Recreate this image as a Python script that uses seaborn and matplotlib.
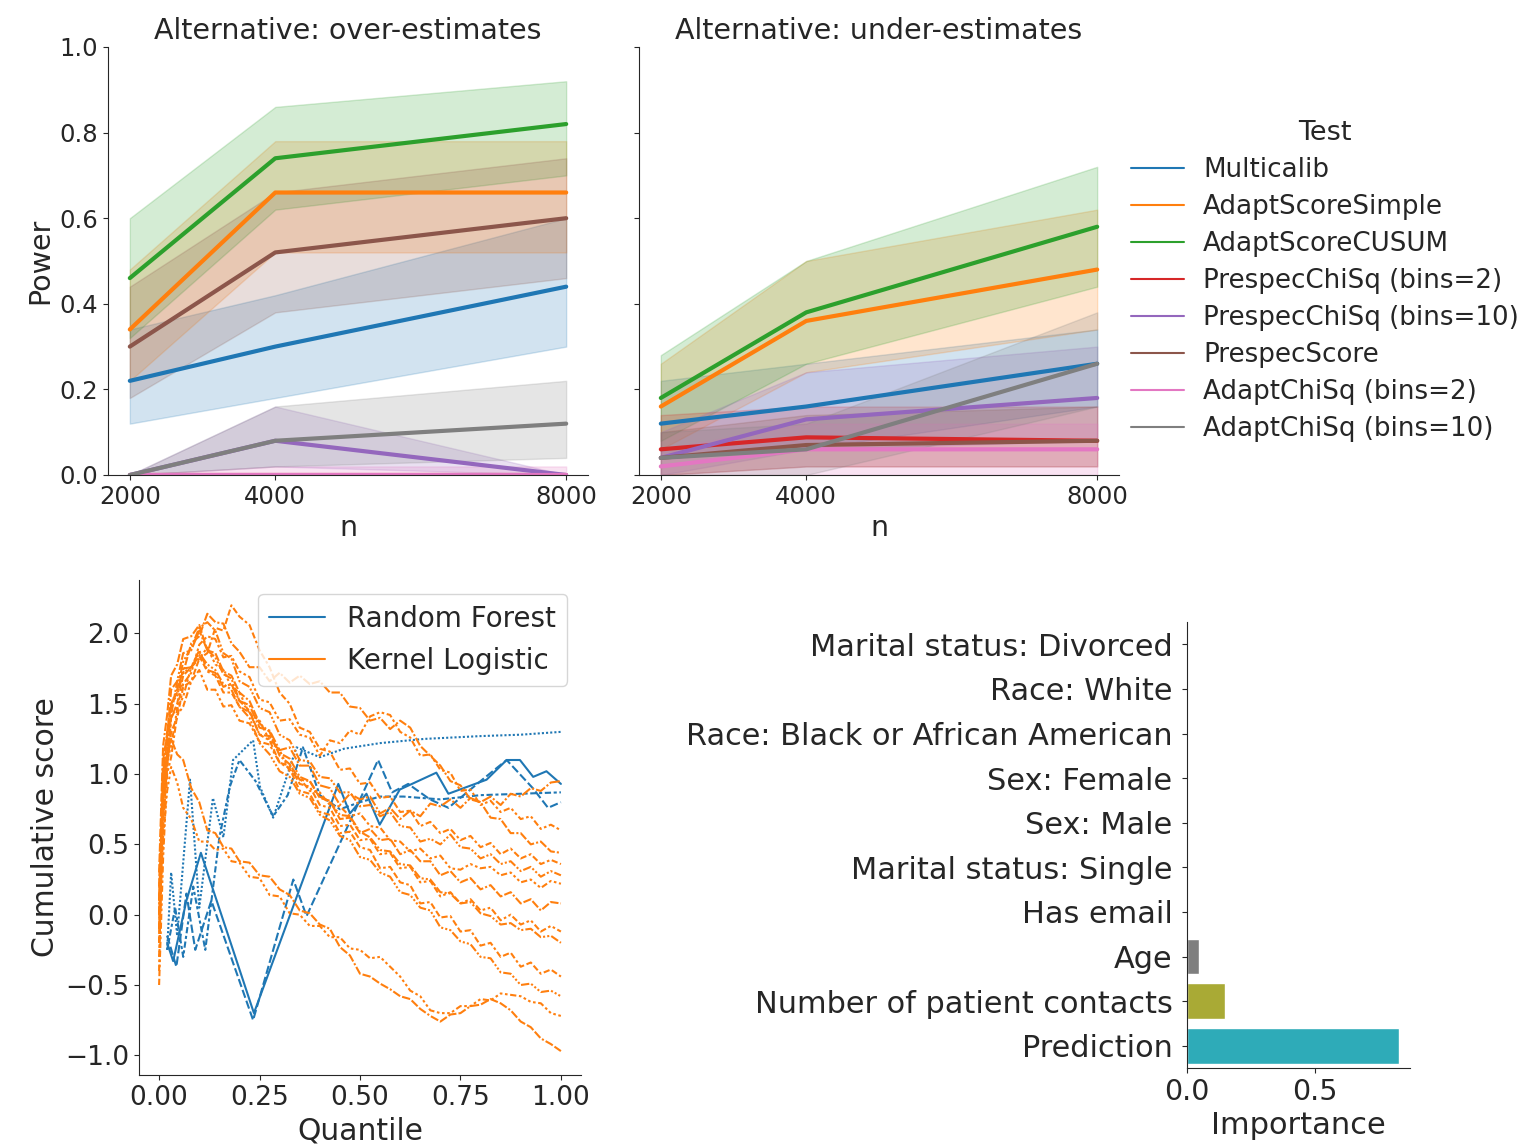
import numpy as np
import pandas as pd
import matplotlib
matplotlib.use("Agg")
import matplotlib.pyplot as plt
import seaborn as sns
from matplotlib.lines import Line2D

# ---------------------------------------------------------------- data
tests = ["Multicalib", "AdaptScoreSimple", "AdaptScoreCUSUM",
         "PrespecChiSq (bins=2)", "PrespecChiSq (bins=10)", "PrespecScore",
         "AdaptChiSq (bins=2)", "AdaptChiSq (bins=10)"]
n_values = [2000, 4000, 8000]

# power under the "over-estimates" alternative (one row per test)
over_power = [[0.22, 0.30, 0.44], [0.34, 0.66, 0.66], [0.46, 0.74, 0.82],
              [0.00, 0.00, 0.00], [0.00, 0.08, 0.00], [0.30, 0.52, 0.60],
              [0.00, 0.00, 0.00], [0.00, 0.08, 0.12]]
over_low = [[0.12, 0.18, 0.30], [0.22, 0.52, 0.52], [0.32, 0.62, 0.70],
            [0.00, 0.00, 0.00], [0.00, 0.02, 0.00], [0.18, 0.38, 0.46],
            [0.00, 0.00, 0.00], [0.00, 0.02, 0.04]]
over_high = [[0.34, 0.42, 0.60], [0.48, 0.78, 0.78], [0.60, 0.86, 0.92],
             [0.00, 0.00, 0.00], [0.00, 0.16, 0.00], [0.44, 0.66, 0.74],
             [0.00, 0.02, 0.02], [0.00, 0.16, 0.22]]

# power under the "under-estimates" alternative
under_power = [[0.12, 0.16, 0.26], [0.16, 0.36, 0.48], [0.18, 0.38, 0.58],
               [0.06, 0.088, 0.08], [0.04, 0.13, 0.18], [0.04, 0.07, 0.08],
               [0.02, 0.06, 0.06], [0.04, 0.06, 0.26]]
under_low = [[0.04, 0.06, 0.16], [0.06, 0.24, 0.34], [0.08, 0.26, 0.44],
             [0.00, 0.02, 0.02], [0.00, 0.06, 0.08], [0.00, 0.02, 0.02],
             [0.00, 0.00, 0.00], [0.00, 0.00, 0.16]]
under_high = [[0.22, 0.26, 0.34], [0.26, 0.50, 0.62], [0.28, 0.50, 0.72],
              [0.14, 0.16, 0.16], [0.10, 0.24, 0.30], [0.10, 0.14, 0.16],
              [0.06, 0.12, 0.12], [0.10, 0.12, 0.38]]

# cumulative score curves, Random Forest runs
rf_quantile = [
    [0.02, 0.035, 0.068, 0.104, 0.236, 0.446, 0.475, 0.516, 0.549, 0.599,
     0.69, 0.72, 0.815, 0.865, 0.898, 0.931, 0.964, 1.0],
    [0.02, 0.043, 0.068, 0.09, 0.13, 0.234, 0.334, 0.367, 0.545, 0.58,
     0.62, 0.674, 0.72, 0.80, 0.865, 0.93, 0.968, 1.0],
    [0.02, 0.03, 0.045, 0.077, 0.10, 0.134, 0.16, 0.184, 0.234, 0.251,
     0.284, 0.342, 0.40, 0.46, 0.55, 0.66, 0.80, 0.90, 1.0],
    [0.02, 0.04, 0.06, 0.085, 0.115, 0.15, 0.176, 0.20, 0.24, 0.284,
     0.32, 0.358, 0.40, 0.45, 0.50, 0.55, 0.608, 0.70, 0.80, 0.90, 1.0],
]
rf_score = [
    [-0.20, -0.33, 0.10, 0.44, -0.70, 0.93, 0.72, 0.86, 0.64, 0.89,
     1.01, 0.86, 0.96, 1.10, 1.10, 0.98, 1.02, 0.93],
    [-0.15, -0.37, 0.15, -0.25, 0.10, -0.75, 0.25, -0.01, 1.10, 0.87,
     0.93, 0.82, 0.76, 0.95, 1.10, 0.90, 0.76, 0.80],
    [-0.25, 0.30, -0.15, 0.96, 0.05, 0.83, 0.55, 1.10, 1.24, 0.91,
     0.69, 1.19, 1.12, 1.18, 1.22, 1.25, 1.27, 1.28, 1.30],
    [-0.25, 0.05, -0.30, 0.20, -0.25, 0.55, 0.91, 1.10, 0.95, 0.70,
     0.85, 1.19, 0.85, 0.75, 0.80, 0.84, 0.84, 0.82, 0.85, 0.86, 0.87],
]

# cumulative score curves, Kernel Logistic runs (shared quantile grid)
kl_quantile = [0.0, 0.005, 0.01, 0.02, 0.03, 0.045, 0.06, 0.08,
               0.10, 0.12, 0.14, 0.16, 0.18, 0.20,
               0.225, 0.25, 0.275, 0.30, 0.325, 0.35, 0.375, 0.40,
               0.425, 0.45, 0.475, 0.50, 0.525, 0.55, 0.575, 0.60,
               0.625, 0.65, 0.675, 0.70, 0.725, 0.75, 0.775, 0.80,
               0.825, 0.85, 0.875, 0.90, 0.925, 0.95, 0.975, 1.0]
kl_score = [
    [0.10, 0.55, 1.00, 1.30, 1.50, 1.58, 1.75, 1.76,
     1.88, 1.74, 1.72, 1.62, 1.64, 1.52,
     1.49, 1.33, 1.31, 1.17, 1.19, 1.06, 1.06, 0.92,
     0.90, 0.78, 0.86, 0.82, 0.84, 0.72, 0.76, 0.68,
     0.74, 0.70, 0.79, 0.77, 0.82, 0.76, 0.83, 0.80,
     0.84, 0.78, 0.86, 0.84, 0.90, 0.88, 0.94, 0.95],
    [-0.10, 0.35, 0.80, 1.05, 1.40, 1.48, 1.64, 1.72,
     1.92, 1.98, 1.96, 1.83, 1.84, 1.73,
     1.69, 1.53, 1.51, 1.38, 1.39, 1.28, 1.26, 1.13,
     1.24, 1.22, 1.31, 1.28, 1.41, 1.44, 1.42, 1.30,
     1.26, 1.13, 1.14, 1.03, 1.01, 0.88, 0.89, 0.78,
     0.81, 0.73, 0.76, 0.68, 0.70, 0.61, 0.64, 0.60],
    [0.20, 0.62, 1.10, 1.28, 1.42, 1.66, 1.72, 1.93,
     1.98, 2.14, 2.08, 2.07, 1.93, 1.87,
     1.76, 1.76, 1.66, 1.72, 1.65, 1.70, 1.64, 1.66,
     1.58, 1.58, 1.48, 1.47, 1.38, 1.40, 1.32, 1.38,
     1.33, 1.20, 1.13, 1.06, 0.95, 0.92, 0.82, 0.80,
     0.69, 0.68, 0.58, 0.58, 0.50, 0.52, 0.45, 0.44],
    [-0.20, 0.30, 0.70, 1.05, 1.30, 1.40, 1.62, 1.66,
     1.82, 1.86, 2.04, 2.02, 2.20, 2.12,
     2.06, 1.88, 1.76, 1.58, 1.50, 1.33, 1.30, 1.18,
     1.16, 1.03, 1.04, 0.93, 0.94, 0.83, 0.84, 0.73,
     0.74, 0.63, 0.66, 0.58, 0.61, 0.53, 0.56, 0.48,
     0.51, 0.43, 0.47, 0.40, 0.43, 0.36, 0.39, 0.36],
    [0.00, 0.48, 0.90, 1.16, 1.50, 1.60, 1.80, 1.90,
     2.04, 2.08, 2.02, 1.86, 1.82, 1.66,
     1.62, 1.47, 1.44, 1.28, 1.24, 1.10, 1.09, 0.98,
     0.97, 0.87, 0.87, 0.77, 0.78, 0.70, 0.73, 0.63,
     0.62, 0.52, 0.54, 0.50, 0.57, 0.48, 0.47, 0.40,
     0.43, 0.36, 0.38, 0.31, 0.34, 0.27, 0.31, 0.28],
    [-0.30, 0.20, 0.60, 1.10, 1.20, 1.46, 1.55, 1.76,
     1.82, 1.90, 1.78, 1.74, 1.62, 1.58,
     1.43, 1.38, 1.24, 1.17, 1.02, 0.97, 0.88, 0.87,
     0.78, 0.77, 0.70, 0.72, 0.63, 0.62, 0.53, 0.52,
     0.45, 0.47, 0.40, 0.42, 0.33, 0.32, 0.36, 0.33,
     0.34, 0.28, 0.30, 0.23, 0.25, 0.19, 0.24, 0.22],
    [0.30, 0.75, 1.20, 1.42, 1.70, 1.78, 1.96, 1.98,
     2.06, 1.88, 1.86, 1.73, 1.70, 1.58,
     1.52, 1.36, 1.30, 1.13, 1.07, 0.96, 0.95, 0.83,
     0.81, 0.68, 0.69, 0.58, 0.61, 0.53, 0.54, 0.43,
     0.46, 0.38, 0.38, 0.28, 0.31, 0.23, 0.26, 0.18,
     0.21, 0.13, 0.16, 0.08, 0.11, 0.03, 0.09, 0.08],
    [-0.50, -0.05, 0.40, 1.00, 1.12, 1.42, 1.48, 1.66,
     1.74, 1.60, 1.60, 1.48, 1.49, 1.38,
     1.36, 1.23, 1.21, 1.08, 1.06, 0.93, 0.91, 0.78,
     0.76, 0.63, 0.64, 0.53, 0.54, 0.43, 0.44, 0.33,
     0.34, 0.23, 0.24, 0.13, 0.16, 0.08, 0.11, 0.03,
     0.05, -0.04, 0.00, -0.07, -0.04, -0.12, -0.08, -0.12],
    [0.10, 0.55, 1.00, 1.25, 1.60, 1.66, 1.86, 1.88,
     2.02, 1.88, 1.83, 1.71, 1.68, 1.52,
     1.45, 1.28, 1.27, 1.15, 1.11, 0.98, 0.95, 0.84,
     0.80, 0.71, 0.70, 0.59, 0.55, 0.46, 0.45, 0.36,
     0.35, 0.26, 0.25, 0.16, 0.15, 0.08, 0.09, 0.01,
     -0.01, -0.07, -0.06, -0.11, -0.10, -0.16, -0.15, -0.20],
    [-0.20, 0.30, 0.80, 1.05, 1.40, 1.50, 1.70, 1.76,
     1.84, 1.73, 1.70, 1.58, 1.58, 1.48,
     1.44, 1.28, 1.24, 1.08, 1.04, 0.88, 0.86, 0.73,
     0.71, 0.58, 0.59, 0.48, 0.46, 0.33, 0.34, 0.23,
     0.21, 0.08, 0.09, -0.02, -0.01, -0.12, -0.11, -0.22,
     -0.20, -0.30, -0.27, -0.37, -0.34, -0.42, -0.39, -0.44],
    [0.00, 0.45, 0.90, 1.15, 1.50, 1.56, 1.72, 1.76,
     1.86, 1.78, 1.74, 1.64, 1.60, 1.48,
     1.40, 1.22, 1.14, 1.02, 0.98, 0.86, 0.83, 0.71,
     0.67, 0.56, 0.53, 0.41, 0.39, 0.30, 0.27, 0.16,
     0.14, 0.05, 0.03, -0.09, -0.11, -0.19, -0.21, -0.30,
     -0.31, -0.41, -0.42, -0.50, -0.49, -0.55, -0.54, -0.58],
    [-0.40, 0.30, 0.55, 0.88, 1.05, 0.94, 0.76, 0.68,
     0.52, 0.52, 0.46, 0.47, 0.38, 0.37,
     0.27, 0.26, 0.14, 0.13, 0.01, 0.00, -0.08, -0.08,
     -0.16, -0.16, -0.24, -0.25, -0.31, -0.30, -0.37, -0.44,
     -0.54, -0.58, -0.68, -0.70, -0.70, -0.65, -0.65, -0.60,
     -0.61, -0.56, -0.57, -0.58, -0.62, -0.63, -0.70, -0.72],
    [-0.10, 0.60, 0.85, 1.16, 1.25, 1.14, 1.10, 0.90,
     0.80, 0.60, 0.58, 0.48, 0.47, 0.38,
     0.37, 0.28, 0.27, 0.18, 0.14, 0.03, 0.01, -0.07,
     -0.10, -0.23, -0.29, -0.42, -0.44, -0.49, -0.53, -0.58,
     -0.60, -0.67, -0.72, -0.76, -0.71, -0.70, -0.65, -0.64,
     -0.60, -0.63, -0.68, -0.76, -0.80, -0.88, -0.92, -0.97],
]
model_names = ["Random Forest", "Kernel Logistic"]

# feature importances
features = ["Marital status: Divorced", "Race: White",
            "Race: Black or African American", "Sex: Female", "Sex: Male",
            "Marital status: Single", "Has email", "Age",
            "Number of patient contacts", "Prediction"]
importance = [0.0, 0.0, 0.0, 0.0, 0.0, 0.0, 0.0, 0.046, 0.149, 0.832]

# ---------------------------------------------------------------- figure
sns.set_style("ticks")
palette = sns.color_palette("tab10")

W, H = 1525, 1148
fig = plt.figure(figsize=(W / 100, H / 100), dpi=100)


def frac(left, top, right, bottom):
    return [left / W, 1 - bottom / H, (right - left) / W, (bottom - top) / H]


ax1 = fig.add_axes(frac(108, 47, 588, 475))
ax2 = fig.add_axes(frac(639, 47, 1119, 475))
ax3 = fig.add_axes(frac(139, 580, 581, 1075))
ax4 = fig.add_axes(frac(1187, 622, 1410, 1068))


def power_panel(ax, power, low, high, title):
    df = pd.DataFrame({
        "n": np.tile(n_values, len(tests)),
        "Power": np.concatenate(power),
        "Test": np.repeat(tests, len(n_values)),
    })
    for i in range(len(tests)):
        ax.fill_between(n_values, low[i], high[i], color=palette[i], alpha=0.2)
    sns.lineplot(data=df, x="n", y="Power", hue="Test", hue_order=tests,
                 palette=palette[:len(tests)], linewidth=3, errorbar=None,
                 legend=False, ax=ax)
    ax.set_ylim(0, 1)
    ax.set_xlim(1700, 8300)
    ax.set_xticks(n_values)
    ax.set_yticks([0.0, 0.2, 0.4, 0.6, 0.8, 1.0])
    ax.set_title(title, fontsize=20.5)
    ax.set_xlabel("n", fontsize=20.5)
    ax.tick_params(labelsize=17.5)


power_panel(ax1, over_power, over_low, over_high, "Alternative: over-estimates")
power_panel(ax2, under_power, under_low, under_high, "Alternative: under-estimates")
ax1.set_ylabel("Power", fontsize=20.5)
ax2.set_ylabel("")
ax2.tick_params(labelleft=False)

test_handles = [Line2D([], [], color=palette[i], lw=1.5) for i in range(len(tests))]
fig.legend(test_handles, tests, title="Test", loc="upper left",
           bbox_to_anchor=(1121 / W, 1 - 110 / H), frameon=False,
           fontsize=18.8, title_fontsize=19.5, borderaxespad=0,
           labelspacing=0.42, handletextpad=0.75)

# cumulative score curves
rows = []
run = 0
for q, s in zip(rf_quantile, rf_score):
    rows += [(xv, yv, model_names[0], run) for xv, yv in zip(q, s)]
    run += 1
for s in kl_score:
    rows += [(xv, yv, model_names[1], run) for xv, yv in zip(kl_quantile, s)]
    run += 1
curves = pd.DataFrame(rows, columns=["Quantile", "Cumulative score", "model", "run"])
sns.lineplot(data=curves, x="Quantile", y="Cumulative score", hue="model",
             hue_order=model_names, palette=palette[:2], style="run",
             estimator=None, sort=False, linewidth=1.5, legend=False, ax=ax3)
ax3.set_xlim(-0.05, 1.05)
ax3.set_ylim(-1.14, 2.38)
ax3.set_xticks([0.0, 0.25, 0.5, 0.75, 1.0])
ax3.set_xticklabels(["0.00", "0.25", "0.50", "0.75", "1.00"])
ax3.set_yticks([-1.0, -0.5, 0.0, 0.5, 1.0, 1.5, 2.0])
ax3.set_yticklabels(["\u22121.0", "\u22120.5", "0.0", "0.5", "1.0", "1.5", "2.0"])
ax3.tick_params(labelsize=19)
ax3.set_xlabel("Quantile", fontsize=21.5)
ax3.set_ylabel("Cumulative score", fontsize=21.5)
model_handles = [Line2D([], [], color=palette[i], lw=1.5) for i in range(2)]
ax3.legend(model_handles, model_names, loc="upper right", fontsize=20)

# feature importance bars
sns.barplot(x=importance, y=features, hue=features, palette="tab10",
            legend=False, orient="h", ax=ax4)
ax4.set_xticks([0.0, 0.5])
ax4.tick_params(axis="y", labelsize=21.9, pad=7)
ax4.tick_params(axis="x", labelsize=20.5)
ax4.set_xlabel("Importance", fontsize=22)
ax4.set_ylabel("")

sns.despine(fig=fig)
fig.savefig("out.png", dpi=100)
